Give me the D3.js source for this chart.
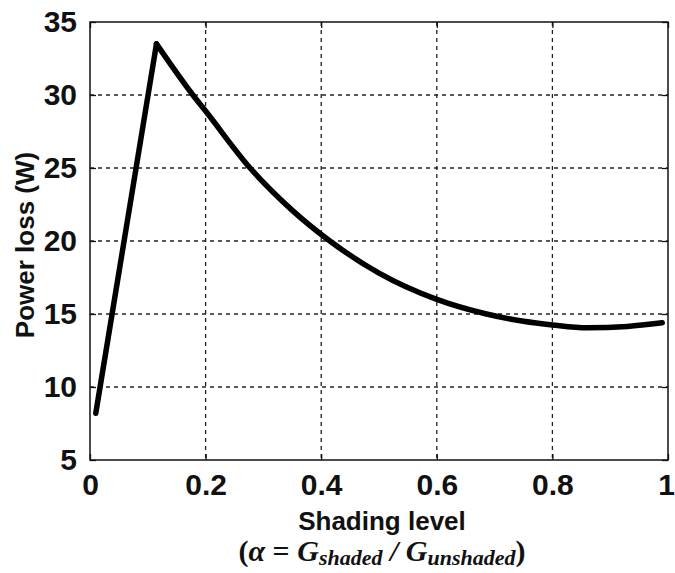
<!DOCTYPE html>
<html>
<head>
<meta charset="utf-8">
<script src="https://cdn.jsdelivr.net/npm/d3@7"></script>
<style>
  html, body { margin: 0; padding: 0; background: #fff; }
  svg { display: block; }
</style>
</head>
<body>
<svg id="chart" width="675" height="573"></svg>
<script>
// Shading level (alpha) and corresponding power loss in watts
const shadingLevel = [0.01, 0.115, 0.178, 0.2, 0.277, 0.35, 0.415, 0.5, 0.6, 0.686, 0.75, 0.8, 0.86, 0.93, 0.99];
const powerLoss    = [8.2, 33.5, 30.0, 28.9, 25.0, 22.1, 20.0, 17.8, 16.0, 15.0, 14.5, 14.25, 14.05, 14.15, 14.4];

const xTicks = [0, 0.2, 0.4, 0.6, 0.8, 1];
const xTickLabels = ["0", "0.2", "0.4", "0.6", "0.8", "1"];
const yTicks = [5, 10, 15, 20, 25, 30, 35];
const yTickLabels = ["5", "10", "15", "20", "25", "30", "35"];

const svg = d3.select("#chart");
const plot = { left: 90, top: 22, right: 668, bottom: 460 };

const x = d3.scaleLinear().domain([0, 1]).range([plot.left, plot.right]);
const y = d3.scaleLinear().domain([5, 35]).range([plot.bottom, plot.top]);

// dotted grid
const grid = svg.append("g");
grid.selectAll("line.vg").data(xTicks.slice(1, -1)).join("line")
  .attr("x1", d => x(d)).attr("x2", d => x(d))
  .attr("y1", plot.top).attr("y2", plot.bottom)
  .attr("stroke", "#222").attr("stroke-width", 1.3).attr("stroke-dasharray", "4,4");
grid.selectAll("line.hg").data(yTicks.slice(1, -1)).join("line")
  .attr("x1", plot.left).attr("x2", plot.right)
  .attr("y1", d => y(d)).attr("y2", d => y(d))
  .attr("stroke", "#222").attr("stroke-width", 1.3).attr("stroke-dasharray", "4,4");

// axes with inward ticks
const font = "'Liberation Sans', Arial, sans-serif";
const xAxis = d3.axisBottom(x).tickValues(xTicks).tickSize(-6).tickPadding(14)
  .tickFormat((d, i) => xTickLabels[i]);
const yAxis = d3.axisLeft(y).tickValues(yTicks).tickSize(-6).tickPadding(13)
  .tickFormat((d, i) => yTickLabels[i]);

const gx = svg.append("g").attr("transform", `translate(0,${plot.bottom})`).call(xAxis);
const gy = svg.append("g").attr("transform", `translate(${plot.left},0)`).call(yAxis);
const gxTop = svg.append("g").attr("transform", `translate(0,${plot.top})`)
  .call(d3.axisTop(x).tickValues(xTicks).tickSize(-6).tickFormat(""));
const gyRight = svg.append("g").attr("transform", `translate(${plot.right},0)`)
  .call(d3.axisRight(y).tickValues(yTicks).tickSize(-6).tickFormat(""));

[gx, gy, gxTop, gyRight].forEach(g => {
  g.select(".domain").remove();
  g.selectAll(".tick line").attr("stroke", "#111").attr("stroke-width", 1.3);
  g.selectAll(".tick text")
    .attr("fill", "#111")
    .style("font-family", font)
    .style("font-weight", "bold")
    .style("font-size", "30px");
});
gx.selectAll(".tick text").attr("dy", "0.71em");
// the last label sits flush against the right edge
gx.selectAll(".tick text").filter((d, i) => i === xTicks.length - 1).attr("dx", "-2px");

// plot frame
svg.append("rect")
  .attr("x", plot.left).attr("y", plot.top)
  .attr("width", plot.right - plot.left).attr("height", plot.bottom - plot.top)
  .attr("fill", "none").attr("stroke", "#111").attr("stroke-width", 1.5);

// power loss curve: straight rise to the peak, smooth decay after it
const pts = shadingLevel.map((a, i) => [a, powerLoss[i]]);
const peak = d3.maxIndex(powerLoss);
const rise = pts.slice(0, peak + 1);
const decay = pts.slice(peak);

svg.append("path")
  .datum(rise)
  .attr("fill", "none").attr("stroke", "#000").attr("stroke-width", 5.5)
  .attr("stroke-linejoin", "round").attr("stroke-linecap", "round")
  .attr("d", d3.line().x(d => x(d[0])).y(d => y(d[1])));
svg.append("path")
  .datum(decay)
  .attr("fill", "none").attr("stroke", "#000").attr("stroke-width", 5.5)
  .attr("stroke-linejoin", "round").attr("stroke-linecap", "round")
  .attr("d", d3.line().curve(d3.curveMonotoneX).x(d => x(d[0])).y(d => y(d[1])));

// axis titles
svg.append("text")
  .attr("transform", `translate(34,${(plot.top + plot.bottom) / 2 + 4}) rotate(-90)`)
  .attr("text-anchor", "middle")
  .style("font-family", font).style("font-weight", "bold").style("font-size", "26px")
  .attr("fill", "#111")
  .text("Power loss (W)");

svg.append("text")
  .attr("x", 382).attr("y", 530)
  .attr("text-anchor", "middle")
  .style("font-family", font).style("font-weight", "bold").style("font-size", "26px")
  .attr("fill", "#111")
  .text("Shading level");

const sub = svg.append("text")
  .attr("x", 382).attr("y", 561)
  .attr("text-anchor", "middle")
  .style("font-family", "'Liberation Serif', 'Times New Roman', serif")
  .style("font-weight", "bold").style("font-style", "italic").style("font-size", "30px")
  .attr("fill", "#111");
sub.append("tspan").style("font-style", "normal").text("(");
sub.append("tspan").text("α");
sub.append("tspan").style("font-style", "normal").text(" = ");
sub.append("tspan").text("G");
sub.append("tspan").attr("dy", 4).style("font-size", "22px").text("shaded");
sub.append("tspan").attr("dy", -4).text(" / G");
sub.append("tspan").attr("dy", 4).style("font-size", "22px").text("unshaded");
sub.append("tspan").attr("dy", -4).style("font-style", "normal").text(")");
</script>
</body>
</html>
